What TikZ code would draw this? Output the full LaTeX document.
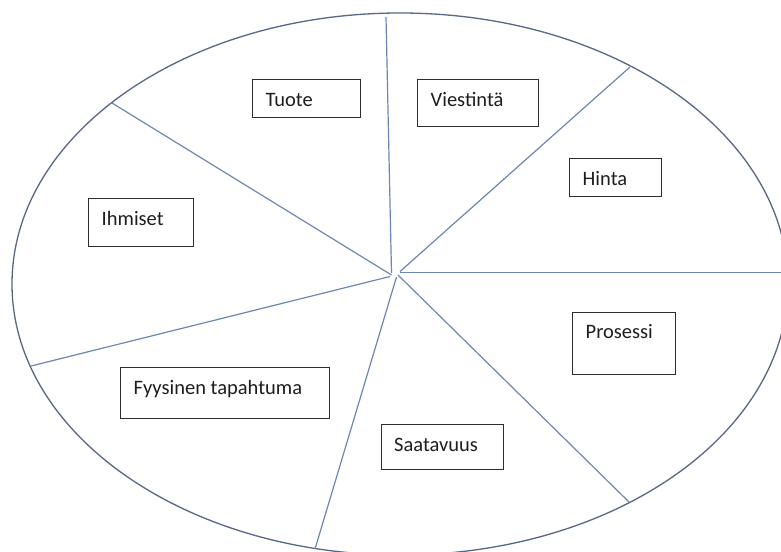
\documentclass[tikz,border=0pt]{standalone}
\usepackage{fontspec}
\setmainfont{Carlito}
\usetikzlibrary{calc}
\definecolor{rim}{RGB}{88,102,135}
\definecolor{spoke}{RGB}{110,135,178}
\definecolor{frame}{RGB}{45,45,45}
\definecolor{ink}{RGB}{30,30,30}
\begin{document}
\begin{tikzpicture}[x=1pt,y=-1pt,
  rimline/.style={draw=rim,line width=1.3pt},
  spokeline/.style={draw=spoke,line width=1.2pt},
  labelbox/.style={draw=frame,line width=1.3pt,rectangle,inner sep=0pt,anchor=north west},
  labeltext/.style={anchor=base west,inner sep=0pt,text=ink,font=\fontsize{20.5}{24}\selectfont}]
\useasboundingbox (0,0) rectangle (781,551);
\fill[white] (0,0) rectangle (781,551);

% spoke end points: near the hub and on the rim
\coordinate (hubN)  at (391.5,273);   \coordinate (rimN)  at (386,17);
\coordinate (hubNW) at (391.5,275);   \coordinate (rimNW) at (112,103);
\coordinate (hubSW) at (390,276.5);   \coordinate (rimSW) at (31,366);
\coordinate (hubNE) at (400,271.5);   \coordinate (rimNE) at (630,67);
\coordinate (hubE)  at (400,272.5);   \coordinate (rimE)  at (790,272.5);
\coordinate (hubSE) at (398,275);     \coordinate (rimSE) at (629,502);
\coordinate (hubS)  at (396.5,277);   \coordinate (rimS)  at (315,549);

\begin{scope}
  \clip (0,0) rectangle (781,551);
  \draw[rimline] (400,284) ellipse [x radius=388pt, y radius=271pt];
  \draw[spokeline] (hubN)  -- (rimN);
  \draw[spokeline] (hubNW) -- (rimNW);
  \draw[spokeline] (hubSW) -- (rimSW);
  \draw[spokeline] (hubNE) -- (rimNE);
  \draw[spokeline] (hubE)  -- (rimE);
  \draw[spokeline] (hubSE) -- (rimSE);
  \draw[spokeline] (hubS)  -- (rimS);
\end{scope}

% label boxes
\node[labelbox,minimum width=108pt,minimum height=38pt] (tuote)     at (252,79)  {};
\node[labelbox,minimum width=105pt,minimum height=48pt] (ihmiset)   at (88,198)  {};
\node[labelbox,minimum width=121pt,minimum height=47pt] (viestinta) at (417,79)  {};
\node[labelbox,minimum width=92pt, minimum height=38pt] (hinta)     at (569,158) {};
\node[labelbox,minimum width=209pt,minimum height=51pt] (fyysinen)  at (120,367) {};
\node[labelbox,minimum width=122pt,minimum height=45pt] (saatavuus) at (381,424) {};
\node[labelbox,minimum width=103pt,minimum height=62pt] (prosessi)  at (572,312) {};

% texts, set at the upper left of each box
\node[labeltext] (tuote-t)     at ($(tuote.north west)+(13.5,27)$)     {Tuote};
\node[labeltext] (ihmiset-t)   at ($(ihmiset.north west)+(13.5,27)$)   {Ihmiset};
\node[labeltext] (viestinta-t) at ($(viestinta.north west)+(13.5,27)$) {Viestintä};
\node[labeltext] (hinta-t)     at ($(hinta.north west)+(13.5,27)$)     {Hinta};
\node[labeltext] (fyysinen-t)  at ($(fyysinen.north west)+(13.5,27)$)  {Fyysinen tapahtuma};
\node[labeltext] (saatavuus-t) at ($(saatavuus.north west)+(13,27)$)   {Saatavuus};
\node[labeltext] (prosessi-t)  at ($(prosessi.north west)+(13.5,26)$)  {Prosessi};
\end{tikzpicture}
\end{document}
